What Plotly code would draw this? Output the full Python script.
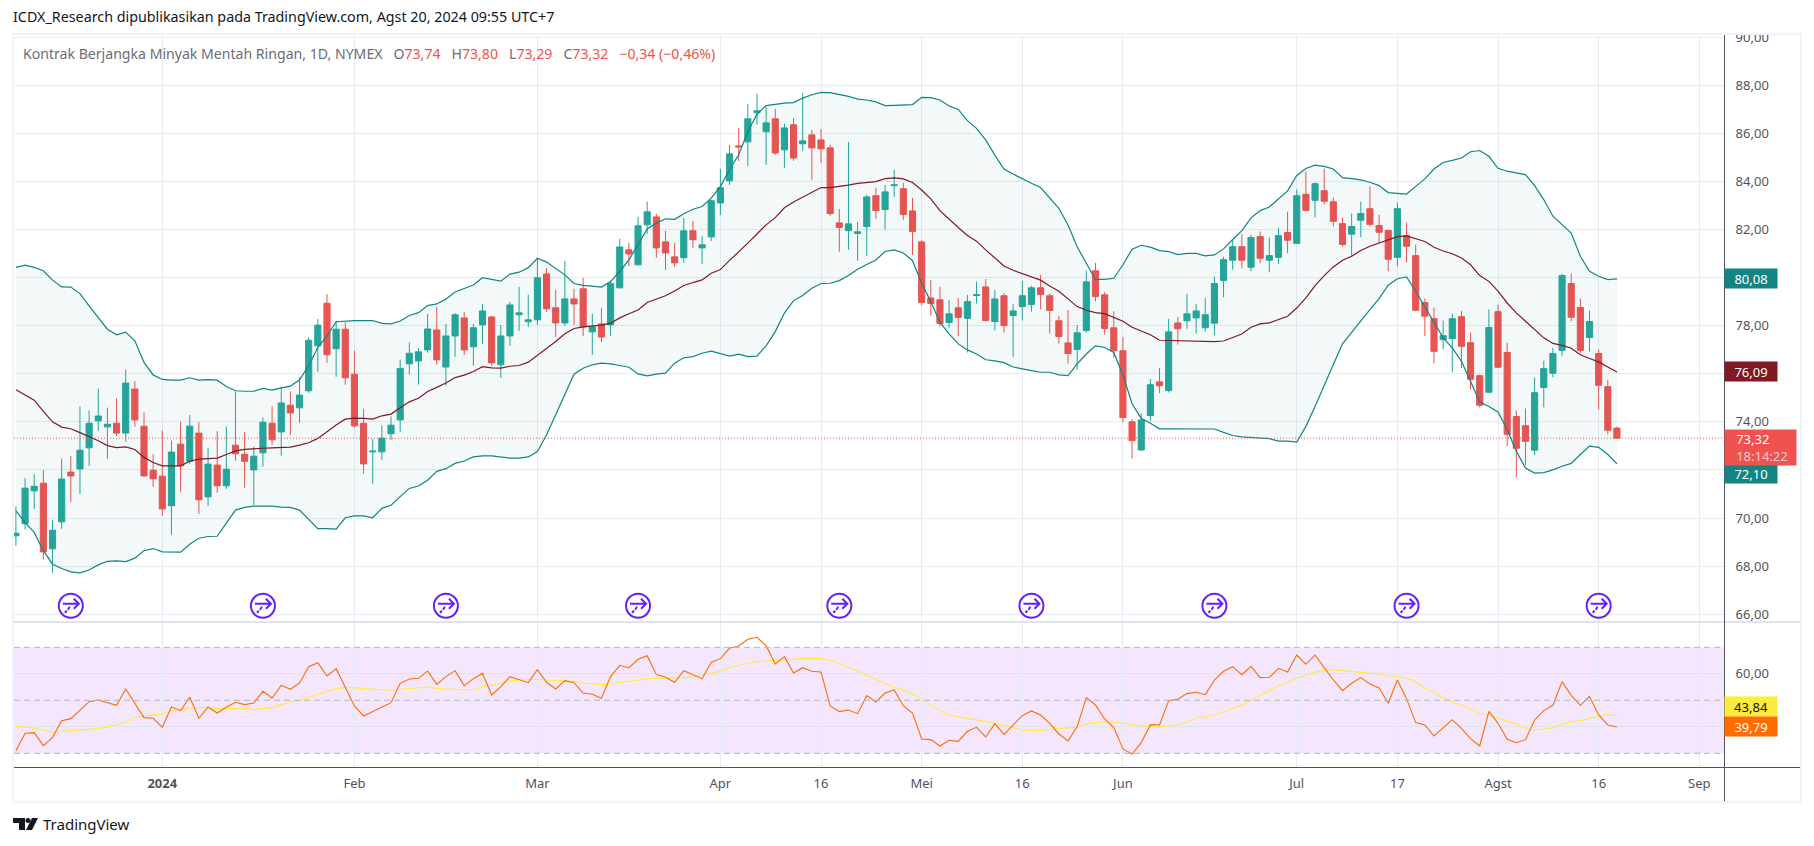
import plotly.graph_objects as go

open_ = [
    69.26, 69.76, 71.13, 71.45, 68.72, 69.84, 71.91, 72.04, 72.92, 74.04,
    73.79, 73.94, 73.53, 75.36, 73.82, 71.99, 71.74, 70.51, 73.07, 72.36,
    73.53, 70.88, 72.20, 71.34, 73.03, 72.65, 72.00, 72.71, 73.94, 73.58,
    74.69, 74.58, 75.29, 77.16, 78.93, 77.04, 77.85, 75.98, 73.94, 72.75,
    72.75, 73.50, 74.08, 76.41, 76.53, 76.99, 77.82, 76.28, 77.57, 78.32,
    77.12, 78.03, 78.36, 76.37, 77.57, 78.45, 78.16, 78.24, 80.15, 78.74,
    78.11, 79.11, 79.53, 77.74, 78.07, 78.03, 79.57, 81.15, 80.53, 82.19,
    82.52, 81.48, 80.86, 80.82, 81.94, 81.23, 81.69, 83.10, 84.02, 85.47,
    85.64, 86.85, 86.06, 86.60, 85.31, 86.35, 85.56, 85.93, 85.72, 85.39,
    82.27, 81.95, 81.83, 82.12, 83.40, 82.83, 83.82, 83.69, 82.77, 81.48,
    79.15, 79.07, 78.13, 78.74, 78.30, 79.25, 79.61, 78.17, 79.24, 78.42,
    78.79, 78.88, 79.57, 79.24, 78.20, 77.28, 77.01, 77.80, 80.28, 79.28,
    77.91, 76.95, 74.00, 72.83, 74.26, 75.66, 75.30, 78.11, 78.20, 78.32,
    77.91, 78.10, 79.88, 80.72, 81.28, 80.43, 81.70, 80.72, 80.84, 81.87,
    81.42, 83.45, 83.21, 83.61, 83.15, 82.24, 81.80, 82.38, 82.86, 82.16,
    81.95, 80.84, 81.74, 80.91, 78.96, 78.29, 77.42, 77.46, 78.37, 77.29,
    75.92, 75.23, 78.58, 76.88, 74.22, 73.84, 72.82, 75.43, 76.02, 76.97,
    79.75, 78.75, 77.51, 76.84, 75.46, 73.74,
]
high = [
    70.48, 71.66, 71.82, 71.99, 69.91, 72.47, 72.57, 74.64, 74.47, 75.38,
    74.59, 74.98, 76.17, 75.69, 74.39, 72.65, 73.64, 73.22, 74.01, 74.28,
    73.98, 72.93, 73.61, 73.80, 75.26, 73.57, 72.97, 74.18, 74.64, 75.47,
    75.26, 75.84, 77.51, 78.27, 79.31, 78.19, 78.14, 76.96, 74.53, 73.28,
    73.85, 74.22, 76.59, 77.30, 77.07, 78.49, 78.78, 78.07, 78.52, 78.57,
    78.07, 78.90, 78.40, 78.03, 78.99, 79.61, 79.28, 80.82, 80.40, 79.49,
    80.69, 79.53, 79.99, 78.49, 78.74, 79.86, 81.61, 81.44, 82.52, 83.16,
    82.65, 81.94, 81.44, 82.48, 82.35, 81.73, 83.23, 84.52, 85.51, 86.22,
    87.22, 87.64, 87.10, 87.01, 86.39, 86.64, 87.68, 86.13, 86.17, 85.52,
    82.85, 85.64, 82.31, 83.44, 83.73, 83.85, 84.48, 83.93, 83.31, 81.57,
    79.90, 79.61, 79.07, 79.15, 79.28, 79.82, 79.94, 79.49, 79.35, 78.90,
    79.86, 79.65, 80.11, 79.33, 78.41, 78.65, 78.03, 80.28, 80.61, 79.39,
    78.60, 77.53, 74.12, 74.33, 75.79, 76.24, 78.28, 78.36, 79.32, 78.90,
    79.15, 80.04, 80.87, 81.58, 81.82, 81.78, 81.91, 81.66, 82.07, 82.74,
    83.65, 84.40, 83.95, 84.53, 83.32, 82.49, 82.66, 83.15, 83.78, 82.61,
    81.99, 83.11, 82.28, 81.37, 79.12, 78.75, 78.21, 78.50, 78.61, 77.71,
    75.96, 78.67, 78.87, 77.29, 74.47, 74.55, 75.84, 76.54, 77.08, 80.16,
    80.16, 79.12, 78.62, 77.00, 75.75, 73.80,
]
low = [
    68.84, 69.51, 70.38, 68.26, 67.72, 69.55, 70.67, 71.00, 72.17, 73.62,
    72.46, 73.42, 73.17, 73.79, 71.72, 71.30, 70.09, 69.30, 71.09, 72.25,
    70.17, 70.51, 71.05, 71.21, 72.38, 71.26, 70.55, 72.13, 73.04, 72.59,
    73.46, 73.96, 75.20, 76.08, 76.45, 75.87, 75.54, 73.76, 71.84, 71.42,
    72.42, 73.25, 73.58, 75.97, 75.55, 76.87, 76.37, 75.50, 76.70, 76.78,
    76.33, 77.24, 76.33, 75.83, 77.16, 77.78, 77.95, 78.03, 78.57, 77.53,
    77.99, 78.03, 77.57, 76.78, 77.32, 77.57, 79.55, 80.48, 80.50, 81.81,
    80.82, 80.32, 80.44, 80.61, 81.23, 80.57, 81.52, 82.60, 83.85, 84.85,
    84.64, 86.35, 84.68, 85.10, 84.56, 84.85, 85.27, 84.05, 84.77, 82.56,
    81.07, 81.15, 80.69, 80.90, 82.44, 81.99, 83.35, 82.40, 80.94, 78.84,
    78.42, 77.96, 77.92, 77.55, 76.88, 78.92, 78.17, 77.80, 77.71, 76.71,
    78.21, 78.58, 78.67, 77.67, 77.25, 76.42, 76.17, 77.71, 79.00, 77.63,
    76.67, 73.97, 72.47, 72.79, 74.04, 75.20, 75.22, 77.21, 77.87, 77.67,
    77.75, 77.60, 79.18, 80.33, 80.38, 80.26, 80.59, 80.22, 80.55, 81.01,
    81.40, 82.75, 82.50, 83.04, 82.12, 81.28, 80.88, 81.67, 82.12, 81.42,
    80.26, 80.47, 80.63, 78.60, 77.56, 76.43, 77.02, 76.06, 76.23, 75.35,
    74.60, 75.19, 76.25, 72.98, 71.69, 72.19, 72.61, 74.60, 75.85, 76.72,
    78.18, 76.85, 76.93, 74.51, 73.48, 73.29,
]
close = [
    69.37, 71.24, 71.32, 68.59, 69.49, 71.62, 71.75, 72.82, 73.94, 74.24,
    73.90, 73.53, 75.61, 74.08, 71.75, 71.63, 70.38, 72.74, 72.17, 73.82,
    70.76, 72.24, 71.34, 72.03, 72.67, 72.36, 72.57, 73.98, 73.25, 74.78,
    74.37, 75.11, 77.39, 78.02, 76.79, 77.85, 75.83, 73.83, 72.25, 72.78,
    73.32, 73.86, 76.22, 76.85, 76.91, 77.86, 76.58, 77.57, 78.45, 76.99,
    77.91, 78.61, 76.45, 77.57, 78.86, 78.53, 78.24, 79.99, 78.70, 78.11,
    79.11, 78.90, 77.95, 77.95, 77.53, 79.74, 81.27, 80.98, 82.15, 82.73,
    81.23, 81.02, 80.61, 81.94, 81.57, 81.36, 83.19, 83.73, 85.14, 85.43,
    86.60, 86.93, 86.43, 85.18, 86.22, 84.97, 85.68, 85.39, 85.35, 82.66,
    82.08, 82.23, 81.90, 83.35, 82.78, 83.56, 83.85, 82.62, 81.91, 78.96,
    78.92, 78.09, 78.49, 78.34, 79.00, 79.28, 78.21, 79.11, 78.00, 78.61,
    79.24, 79.57, 79.29, 78.63, 77.55, 76.84, 77.70, 79.82, 79.21, 77.88,
    76.96, 74.18, 73.22, 74.08, 75.54, 75.50, 77.74, 77.87, 78.49, 78.61,
    78.45, 79.75, 80.74, 81.28, 80.72, 81.66, 80.80, 80.91, 81.74, 81.55,
    83.40, 82.79, 83.90, 83.17, 82.34, 81.37, 82.12, 82.66, 82.21, 81.88,
    80.76, 82.86, 81.30, 78.64, 78.39, 76.93, 77.58, 78.29, 77.14, 75.77,
    74.69, 77.92, 76.27, 73.48, 72.90, 73.19, 75.21, 76.21, 76.84, 80.08,
    78.35, 76.97, 78.17, 75.52, 73.65, 73.32,
]
bb_upper = [
    80.42, 80.51, 80.42, 80.28, 79.89, 79.61, 79.60, 79.33, 78.82, 78.31,
    77.85, 77.62, 77.73, 77.37, 76.47, 75.95, 75.76, 75.73, 75.73, 75.83,
    75.73, 75.75, 75.73, 75.47, 75.29, 75.27, 75.27, 75.39, 75.32, 75.41,
    75.48, 75.75, 76.33, 77.09, 77.57, 78.16, 78.20, 78.21, 78.21, 78.21,
    78.09, 78.07, 78.19, 78.42, 78.54, 78.83, 78.90, 79.10, 79.40, 79.53,
    79.69, 79.99, 79.92, 79.85, 80.14, 80.22, 80.41, 80.80, 80.64, 80.37,
    80.11, 79.75, 79.67, 79.64, 79.60, 79.83, 80.25, 80.73, 81.40, 82.02,
    82.26, 82.44, 82.42, 82.65, 82.84, 82.95, 83.30, 83.78, 84.48, 85.10,
    86.07, 86.79, 87.15, 87.21, 87.25, 87.27, 87.46, 87.60, 87.70, 87.69,
    87.62, 87.53, 87.42, 87.38, 87.30, 87.15, 87.16, 87.17, 87.19, 87.49,
    87.48, 87.38, 87.13, 86.99, 86.52, 86.20, 85.72, 85.09, 84.51, 84.30,
    84.10, 83.92, 83.74, 83.30, 82.88, 82.18, 81.28, 80.59, 79.92, 79.92,
    79.97, 80.53, 81.18, 81.34, 81.26, 81.12, 81.08, 80.95, 81.00, 81.00,
    80.90, 80.94, 81.19, 81.58, 81.95, 82.48, 82.78, 82.93, 83.27, 83.60,
    84.24, 84.53, 84.67, 84.62, 84.51, 84.15, 84.11, 84.06, 83.96, 83.82,
    83.53, 83.50, 83.47, 83.79, 84.10, 84.51, 84.78, 84.87, 84.97, 85.23,
    85.28, 85.04, 84.54, 84.42, 84.36, 84.28, 83.82, 83.24, 82.55, 82.20,
    81.85, 80.88, 80.26, 80.05, 79.91, 79.94,
]
bb_mid = [
    75.33, 75.12, 74.90, 74.43, 74.00, 73.78, 73.71, 73.55, 73.39, 73.21,
    73.01, 72.93, 72.96, 72.85, 72.52, 72.31, 72.17, 72.16, 72.17, 72.36,
    72.45, 72.47, 72.49, 72.64, 72.79, 72.85, 72.86, 72.90, 72.92, 72.93,
    72.95, 73.03, 73.13, 73.31, 73.60, 73.87, 74.11, 74.15, 74.14, 74.11,
    74.25, 74.32, 74.58, 74.83, 74.98, 75.26, 75.43, 75.61, 75.84, 75.94,
    76.09, 76.29, 76.24, 76.23, 76.31, 76.34, 76.48, 76.76, 77.05, 77.34,
    77.66, 77.88, 77.95, 77.99, 78.02, 78.10, 78.32, 78.49, 78.65, 78.96,
    79.11, 79.24, 79.44, 79.67, 79.79, 79.90, 80.18, 80.33, 80.71, 81.05,
    81.43, 81.81, 82.19, 82.49, 82.90, 83.14, 83.34, 83.57, 83.74, 83.74,
    83.78, 83.84, 83.91, 83.95, 83.99, 84.11, 84.14, 84.10, 83.95, 83.64,
    83.27, 82.78, 82.42, 82.08, 81.75, 81.51, 81.15, 80.80, 80.48, 80.30,
    80.16, 80.05, 79.89, 79.65, 79.43, 79.11, 78.79, 78.64, 78.54, 78.50,
    78.35, 78.18, 77.93, 77.77, 77.62, 77.39, 77.38, 77.35, 77.37, 77.34,
    77.32, 77.33, 77.36, 77.50, 77.65, 77.93, 78.07, 78.11, 78.25, 78.39,
    78.73, 79.15, 79.66, 80.08, 80.44, 80.72, 80.88, 81.12, 81.30, 81.44,
    81.57, 81.70, 81.73, 81.62, 81.50, 81.26, 81.10, 80.99, 80.81, 80.53,
    80.08, 79.84, 79.43, 78.94, 78.53, 78.18, 77.82, 77.49, 77.26, 77.18,
    77.06, 76.79, 76.63, 76.49, 76.28, 76.07,
]
bb_lower = [
    70.30, 69.81, 69.40, 68.64, 68.08, 67.90, 67.76, 67.72, 67.84, 68.05,
    68.20, 68.22, 68.19, 68.33, 68.64, 68.73, 68.59, 68.59, 68.58, 68.91,
    69.16, 69.23, 69.24, 69.79, 70.33, 70.44, 70.49, 70.49, 70.49, 70.45,
    70.44, 70.33, 69.95, 69.56, 69.56, 69.54, 70.01, 70.09, 70.09, 70.01,
    70.40, 70.53, 70.89, 71.23, 71.33, 71.57, 71.94, 72.05, 72.27, 72.37,
    72.54, 72.58, 72.58, 72.54, 72.49, 72.49, 72.54, 72.76, 73.45, 74.29,
    75.12, 75.98, 76.23, 76.37, 76.44, 76.41, 76.34, 76.27, 75.99, 75.91,
    75.98, 76.02, 76.44, 76.66, 76.71, 76.85, 76.94, 76.83, 76.73, 76.81,
    76.71, 76.73, 77.16, 77.75, 78.52, 79.04, 79.25, 79.55, 79.75, 79.76,
    79.87, 80.08, 80.34, 80.54, 80.73, 81.08, 81.15, 81.02, 80.70, 79.76,
    79.00, 78.13, 77.66, 77.24, 76.99, 76.82, 76.58, 76.53, 76.46, 76.28,
    76.19, 76.13, 76.06, 76.06, 75.95, 75.92, 76.41, 76.82, 77.16, 77.09,
    76.88, 75.95, 74.75, 74.14, 73.94, 73.71, 73.71, 73.71, 73.71, 73.72,
    73.73, 73.70, 73.56, 73.43, 73.37, 73.34, 73.34, 73.30, 73.20, 73.20,
    73.16, 73.81, 74.64, 75.48, 76.38, 77.24, 77.72, 78.22, 78.66, 79.12,
    79.68, 79.95, 80.02, 79.43, 78.80, 78.11, 77.49, 77.07, 76.52, 75.68,
    74.82, 74.64, 74.41, 73.68, 72.77, 72.08, 71.87, 71.89, 72.00, 72.15,
    72.27, 72.64, 72.99, 72.94, 72.64, 72.25,
]
rsi = [
    31.00, 37.54, 37.79, 32.89, 36.03, 42.32, 43.08, 46.35, 49.49, 50.12,
    49.11, 48.11, 54.27, 48.86, 43.45, 43.20, 39.80, 47.48, 46.09, 51.13,
    43.20, 47.48, 45.21, 47.35, 49.24, 48.36, 48.99, 53.39, 50.87, 55.66,
    54.15, 56.54, 62.70, 64.21, 59.18, 61.95, 54.90, 47.86, 44.08, 45.72,
    47.35, 49.11, 56.41, 58.05, 58.30, 61.06, 56.03, 58.93, 61.19, 55.53,
    58.17, 60.18, 52.01, 55.15, 58.93, 57.67, 56.66, 61.57, 56.79, 54.27,
    57.42, 56.66, 52.76, 52.26, 50.75, 58.93, 63.20, 62.20, 65.47, 66.85,
    59.68, 58.67, 56.79, 61.19, 59.55, 58.17, 64.34, 65.72, 69.62, 70.50,
    73.02, 73.77, 70.63, 63.71, 66.47, 60.31, 62.32, 60.94, 60.69, 47.86,
    45.72, 46.35, 44.96, 51.76, 49.36, 52.76, 53.89, 47.98, 45.21, 35.40,
    35.15, 32.76, 34.90, 34.52, 38.29, 39.80, 36.16, 41.19, 37.16, 40.81,
    44.21, 45.97, 44.46, 41.31, 37.29, 34.65, 40.06, 51.00, 48.23, 42.95,
    39.68, 31.63, 29.74, 34.02, 40.81, 40.69, 49.87, 50.37, 52.51, 53.01,
    52.13, 57.67, 60.94, 62.70, 59.68, 62.83, 58.55, 58.67, 62.07, 60.69,
    67.10, 63.58, 67.10, 62.32, 57.67, 53.64, 56.41, 58.55, 56.16, 54.65,
    48.86, 57.67, 50.62, 41.57, 40.69, 36.53, 39.43, 42.70, 39.43, 35.53,
    32.76, 45.84, 41.31, 35.28, 34.02, 35.15, 42.57, 46.10, 48.11, 57.04,
    51.88, 48.11, 51.50, 44.46, 40.69, 39.93,
]
rsi_ma = [
    40.06, 39.93, 39.43, 38.55, 37.92, 38.29, 38.55, 38.67, 38.80, 39.30,
    39.93, 40.68, 41.94, 43.45, 44.21, 44.58, 44.71, 45.97, 46.60, 47.10,
    47.23, 47.23, 46.85, 46.85, 46.85, 46.85, 46.47, 46.72, 47.23, 48.36,
    49.37, 50.00, 51.13, 52.01, 53.14, 54.40, 54.77, 54.77, 54.40, 54.27,
    54.02, 53.77, 54.15, 54.40, 54.65, 55.03, 54.52, 54.15, 54.27, 53.89,
    54.15, 55.15, 55.66, 56.41, 57.29, 57.67, 57.79, 57.92, 57.67, 57.42,
    57.42, 57.16, 56.54, 56.28, 55.91, 56.16, 56.79, 57.16, 57.54, 58.17,
    58.30, 58.30, 58.30, 58.55, 58.80, 59.43, 60.06, 60.94, 62.32, 63.20,
    63.96, 64.59, 64.84, 64.84, 65.22, 65.47, 65.72, 65.72, 65.72, 65.09,
    63.96, 62.45, 61.06, 59.68, 57.92, 56.28, 55.03, 53.89, 52.26, 50.50,
    48.36, 46.10, 44.46, 43.70, 43.08, 42.70, 42.07, 41.31, 40.56, 39.68,
    38.80, 38.67, 38.67, 39.05, 39.30, 39.43, 39.80, 40.94, 41.57, 41.82,
    41.82, 41.31, 40.68, 40.31, 40.06, 39.93, 40.18, 40.68, 41.69, 43.20,
    43.83, 44.46, 45.59, 46.97, 48.23, 50.12, 52.01, 53.89, 55.53, 56.79,
    58.42, 59.43, 60.56, 61.32, 61.57, 61.19, 60.94, 60.69, 60.44, 59.93,
    59.18, 59.05, 58.30, 56.91, 54.77, 52.76, 51.00, 49.49, 48.23, 46.85,
    45.21, 44.58, 43.33, 42.19, 40.94, 39.43, 38.80, 39.18, 39.55, 41.06,
    41.94, 42.32, 43.20, 43.96, 44.58, 44.08,
]
bars = list(range(len(close)))

tick_bars = [16, 37, 57, 77, 88, 99, 110, 121, 140, 151, 162, 173, 184]
tick_labels = ["<b>2024</b>", "Feb", "Mar", "Apr", "16", "Mei", "16", "Jun", "Jul", "17", "Agst", "16", "Sep"]
price_ticks = [66, 68, 70, 72, 74, 76, 78, 80, 82, 84, 86, 88, 90]
# 72, 76 and 80 sit behind the last-value labels on the axis
price_tick_labels = ["66,00", "68,00", "70,00", "", "74,00", "", "78,00", "", "82,00", "84,00", "86,00", "88,00", "90,00"]
rsi_ticks = [40, 60]
rsi_tick_labels = ["", "60,00"]
roll_bars = [6, 27, 47, 68, 90, 111, 131, 152, 173]
roll_price = 66.35

UP = "#26a69a"
DOWN = "#ef5350"
BAND = "#138484"
GRID = "#e6edf2"
TEXT = "#50535e"
FONT = "Noto Sans"
W, H = 1814, 846


def px(x):
    return x / W


def py(y):
    return 1 - y / H


def paper_rect(x0, y0, x1, y1, **kw):
    return dict(type="rect", xref="paper", yref="paper",
                x0=px(x0), x1=px(x1), y0=py(y0), y1=py(y1), **kw)


def paper_line(x0, y0, x1, y1, color, width=1):
    return dict(type="line", xref="paper", yref="paper", x0=px(x0), x1=px(x1),
                y0=py(y0), y1=py(y1), line=dict(color=color, width=width), layer="above")


def paper_path(points, color):
    path = "M" + " L".join(f"{px(x):.5f},{py(y):.5f}" for x, y in points) + " Z"
    return dict(type="path", xref="paper", yref="paper", path=path,
                fillcolor=color, line=dict(width=0), layer="above")


def price_label(text, y0, y1, bg, color="#ffffff", x1=1776, align="center"):
    return dict(xref="paper", yref="paper", x=px(1724), y=py(y0), xanchor="left", yanchor="top",
                text=text, showarrow=False, bgcolor=bg, width=x1 - 1724 - 2, height=y1 - y0 - 2,
                align=align, valign="middle", font=dict(family=FONT, size=13, color=color))


fig = go.Figure()

fig.add_trace(go.Scatter(x=bars, y=bb_upper, xaxis="x2", yaxis="y", mode="lines",
                         line=dict(color=BAND, width=1.2), hoverinfo="skip"))
fig.add_trace(go.Scatter(x=bars, y=bb_lower, xaxis="x2", yaxis="y", mode="lines",
                         line=dict(color=BAND, width=1.2), fill="tonexty",
                         fillcolor="rgba(19,132,132,0.05)", hoverinfo="skip"))
fig.add_trace(go.Scatter(x=bars, y=bb_mid, xaxis="x2", yaxis="y", mode="lines",
                         line=dict(color="#801922", width=1.2), hoverinfo="skip"))
fig.add_trace(go.Candlestick(
    x=bars, open=open_, high=high, low=low, close=close, xaxis="x2", yaxis="y",
    increasing=dict(line=dict(color=UP, width=1), fillcolor=UP),
    decreasing=dict(line=dict(color=DOWN, width=1), fillcolor=DOWN),
    whiskerwidth=0, hoverinfo="skip",
))
fig.add_trace(go.Scatter(x=roll_bars, y=[roll_price] * len(roll_bars), xaxis="x2", yaxis="y", mode="markers",
                         marker=dict(symbol="circle", size=24, color="#ffffff",
                                     line=dict(color="#651fff", width=2)),
                         hoverinfo="skip", cliponaxis=False))

fig.add_trace(go.Scatter(x=bars, y=rsi_ma, xaxis="x", yaxis="y2", mode="lines",
                         line=dict(color="#ffeb3b", width=1.1), hoverinfo="skip"))
fig.add_trace(go.Scatter(x=bars, y=rsi, xaxis="x", yaxis="y2", mode="lines",
                         line=dict(color="#ff6d00", width=1.1), hoverinfo="skip"))

shapes = []
# rsi band and levels
shapes.append(dict(type="rect", xref="x domain", yref="y2", x0=0, x1=1, y0=30, y1=70,
                   fillcolor="#f4e7fd", line=dict(width=0), layer="below"))
for level in [70, 50, 30]:
    shapes.append(dict(type="line", xref="x domain", yref="y2", x0=0, x1=1, y0=level, y1=level,
                       line=dict(color="#b2b5be", width=1, dash="6px,4px"), layer="above"))
# last price line
shapes.append(dict(type="line", xref="x2 domain", yref="y", x0=0, x1=1, y0=close[-1], y1=close[-1],
                   line=dict(color=DOWN, width=1, dash="1px,2px"), layer="above"))
# roll icons
for b in roll_bars:
    shapes.append(dict(type="path", xref="x2", yref="y", xsizemode="pixel", ysizemode="pixel",
                       xanchor=b, yanchor=roll_price,
                       path="M-8,2 L8,2 M3,7 L8,2 L3,-3 M-6,-7 L-4,-5 M-3,-4 L-1,-1",
                       line=dict(color="#651fff", width=2), layer="above"))
# frame, pane lines
shapes.append(paper_rect(0, 0, W, 33, fillcolor="#ffffff", line=dict(width=0), layer="above"))
shapes.append(paper_rect(13, 34, 1801, 802, line=dict(color="#f0f3fa", width=2), layer="above"))
shapes.append(paper_line(14, 622, 1800, 622, "#e0e3eb", 2))
shapes.append(paper_line(14, 767.5, 1800, 767.5, TEXT, 1))
shapes.append(paper_line(1724.5, 35, 1724.5, 801, TEXT, 1))
# logo
shapes.append(paper_path([(13, 818), (25, 818), (25, 830), (19, 830), (19, 823), (13, 823)], "#131722"))
shapes.append(dict(type="circle", xref="paper", yref="paper", x0=px(25.5), x1=px(30.5),
                   y0=py(823), y1=py(818), fillcolor="#131722", line=dict(width=0), layer="above"))
shapes.append(paper_path([(32, 818), (38, 818), (32, 830), (26, 830)], "#131722"))

gray = "#6a6d78"
red = DOWN
gap = "\u00a0\u00a0\u00a0"
indent = "\u00a0\u00a0\u00a0"
ohlc_text = (
    f'<span style="color:{gray}">Kontrak Berjangka Minyak Mentah Ringan, 1D, NYMEX{gap}O</span>'
    f'<span style="color:{red}">73,74</span><span style="color:{gray}">{gap}H</span>'
    f'<span style="color:{red}">73,80</span><span style="color:{gray}">{gap}L</span>'
    f'<span style="color:{red}">73,29</span><span style="color:{gray}">{gap}C</span>'
    f'<span style="color:{red}">73,32{gap}−0,34 (−0,46%)</span>'
)
annotations = [
    dict(xref="paper", yref="paper", x=px(11), y=py(17), xanchor="left", yanchor="middle", showarrow=False,
         text="ICDX_Research dipublikasikan pada TradingView.com, Agst 20, 2024 09:55 UTC+7",
         font=dict(family=FONT, size=14.3, color="#131722")),
    dict(xref="paper", yref="paper", x=px(21), y=py(53), xanchor="left", yanchor="middle", showarrow=False,
         text=ohlc_text, font=dict(family=FONT, size=14.1, color=gray)),
    dict(xref="paper", yref="paper", x=px(41), y=py(824), xanchor="left", yanchor="middle", showarrow=False,
         text="TradingView", font=dict(family=FONT, size=15, color="#131722")),
    price_label("80,08", 268.5, 287.5, BAND),
    price_label("76,09", 360.5, 379.5, "#801922"),
    price_label("72,10", 464, 482, BAND),
    price_label(f'{indent}73,32<br>{indent}<span style="color:#fbc9c8">18:14:22</span>', 428.5, 463,
                DOWN, x1=1795, align="left"),
    price_label("43,84", 695.5, 714.5, "#ffeb3b", color="#131722"),
    price_label("39,79", 715.5, 734.5, "#ff6d00"),
]

fig.update_layout(
    width=W, height=H, autosize=False,
    margin=dict(l=0, r=0, t=0, b=0),
    paper_bgcolor="#ffffff", plot_bgcolor="rgba(0,0,0,0)",
    showlegend=False, separators=",.", boxgap=0.33, boxgroupgap=0, hovermode=False,
    font=dict(family=FONT, color=TEXT),
    shapes=shapes, annotations=annotations,
    xaxis=dict(domain=[px(14), px(1724)], anchor="y2", range=[-0.21, 186.7], automargin=False,
               tickmode="array", tickvals=tick_bars, ticktext=tick_labels,
               showgrid=True, gridcolor=GRID, gridwidth=1, zeroline=False, showline=False,
               ticks="outside", ticklen=4, tickcolor="rgba(0,0,0,0)",
               tickfont=dict(family=FONT, size=13, color=TEXT)),
    xaxis2=dict(domain=[px(14), px(1724)], anchor="y", matches="x", rangeslider=dict(visible=False),
                automargin=False, tickmode="array", tickvals=tick_bars, showticklabels=False,
                showgrid=True, gridcolor=GRID, gridwidth=1, zeroline=False, ticks=""),
    yaxis=dict(domain=[py(622), py(35)], range=[65.676, 90.083], side="right", anchor="x2", automargin=False,
               tickmode="array", tickvals=price_ticks, ticktext=price_tick_labels,
               showgrid=True, gridcolor=GRID, gridwidth=1,
               zeroline=False, ticks="outside", ticklen=8, tickcolor="rgba(0,0,0,0)",
               tickfont=dict(family=FONT, size=13, color=TEXT)),
    yaxis2=dict(domain=[py(767), py(622)], range=[24.83, 79.55], side="right", anchor="x", automargin=False,
                tickmode="array", tickvals=rsi_ticks, ticktext=rsi_tick_labels,
                showgrid=True, gridcolor="#dfe3f0", gridwidth=1,
                zeroline=False, ticks="outside", ticklen=8, tickcolor="rgba(0,0,0,0)",
                tickfont=dict(family=FONT, size=13, color=TEXT)),
)

fig.write_html("out.html", config=dict(displayModeBar=False),
               post_script="document.body.style.margin='0';document.documentElement.style.overflow='hidden';")
